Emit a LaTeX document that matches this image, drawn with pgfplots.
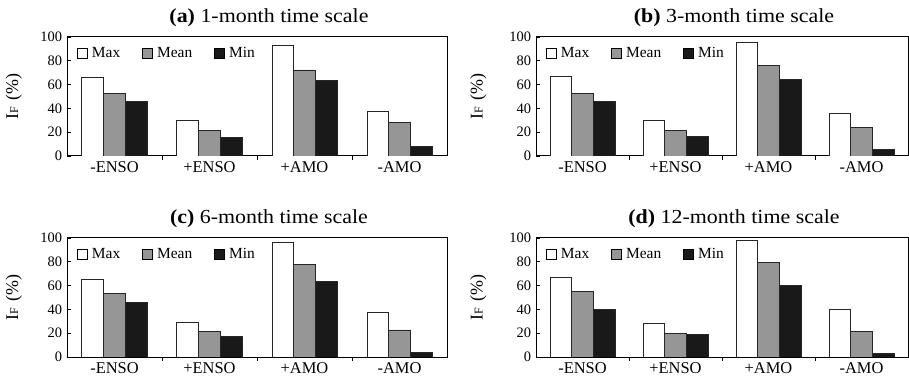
\documentclass[border=0pt]{standalone}
\usepackage{pgfplots}
\pgfplotsset{compat=1.18}
\usepackage{fontspec}
\setmainfont{Liberation Serif}
\newfontfamily\titlefont{Liberation Serif}[FakeStretch=1.1]
\definecolor{meangray}{RGB}{150,150,150}
\definecolor{mincol}{RGB}{25,25,25}
\pgfplotsset{
  sqlegend/.style={legend image code/.code={\draw[##1, line width=0.8bp, draw=black] (0bp,-5bp) rectangle (10bp,5bp);}},
  panel/.style={
    scale only axis,
    width=#1,
    height=119bp,
    ymin=0, ymax=100,
    xmin=-0.5, xmax=3.5,
    ytick={0,20,40,60,80,100},
    xtick={0,1,2,3},
    xticklabels={-ENSO,+ENSO,+AMO,-AMO},
    minor xtick={0.5,1.5,2.5},
    major x tick style={draw=none},
    tick align=inside,
    tick pos=left,
    major tick length=3.5bp,
    minor tick length=4bp,
    every tick/.style={black, line width=0.8bp},
    axis line style={line width=1bp, black},
    /pgf/number format/assume math mode=true,
    yticklabel style={font=\fontsize{14.5}{16}\selectfont, xshift=-1.5bp},
    xticklabel style={font=\fontsize{16.5}{18}\selectfont, yshift=1bp},
    ylabel={I{\fontsize{12}{12}\selectfont F}\hspace{7bp}(\%)},
    ylabel style={font=\fontsize{18}{20}\selectfont, anchor=center},
    title style={font=\titlefont\fontsize{20}{22}\selectfont, at={(0.5,1)}, anchor=base, yshift=9bp, xshift=12bp},
    ybar=0pt,
    bar width=21.7bp,
    every axis plot/.append style={draw=black!85, line width=0.9bp},
    every axis plot post/.append style={sqlegend},
    legend style={draw=none, fill=none, at={(0,1)}, anchor=north west, xshift=10bp, yshift=-8bp,
      font=\fontsize{15.5}{17}\selectfont, legend columns=-1,
      /tikz/every odd column/.append style={column sep=2bp},
      /tikz/every even column/.append style={column sep=20bp},
      inner sep=0bp},
  }
}
\begin{document}
\begin{tikzpicture}
\path[use as bounding box] (0,0) rectangle (909bp,380bp);
% (a)
\begin{axis}[panel=380bp, at={(67bp,224bp)}, anchor=south west,
  title={\textbf{(a)} 1-month time scale}, ylabel style={at={(axis description cs:-0.14,0.5)}}]
\addplot[fill=white] coordinates {(0,65.6) (1,29.6) (2,92.5) (3,37.7)};
\addplot[fill=meangray] coordinates {(0,52.2) (1,21.5) (2,72.3) (3,28.2)};
\addplot[fill=mincol] coordinates {(0,45.8) (1,15.4) (2,63.1) (3,8.4)};
\legend{Max,Mean,Min}
\end{axis}
% (b)
\begin{axis}[panel=372bp, at={(536bp,224bp)}, anchor=south west,
  title={\textbf{(b)} 3-month time scale}, ylabel style={at={(axis description cs:-0.155,0.5)}}]
\addplot[fill=white] coordinates {(0,66.8) (1,29.6) (2,95.0) (3,36.0)};
\addplot[fill=meangray] coordinates {(0,52.2) (1,21.5) (2,76.3) (3,24.3)};
\addplot[fill=mincol] coordinates {(0,45.8) (1,16.5) (2,64.5) (3,5.6)};
\legend{Max,Mean,Min}
\end{axis}
% (c)
\begin{axis}[panel=380bp, at={(67bp,23bp)}, anchor=south west,
  title={\textbf{(c)} 6-month time scale}, ylabel style={at={(axis description cs:-0.14,0.5)}}]
\addplot[fill=white] coordinates {(0,65.5) (1,29.4) (2,96.4) (3,37.3)};
\addplot[fill=meangray] coordinates {(0,53.5) (1,21.3) (2,77.9) (3,22.7)};
\addplot[fill=mincol] coordinates {(0,45.7) (1,17.6) (2,63.3) (3,4.2)};
\legend{Max,Mean,Min}
\end{axis}
% (d)
\begin{axis}[panel=372bp, at={(536bp,23bp)}, anchor=south west,
  title={\textbf{(d)} 12-month time scale}, ylabel style={at={(axis description cs:-0.155,0.5)}}]
\addplot[fill=white] coordinates {(0,67.0) (1,28.0) (2,97.8) (3,40.3)};
\addplot[fill=meangray] coordinates {(0,54.9) (1,19.9) (2,79.3) (3,21.3)};
\addplot[fill=mincol] coordinates {(0,40.3) (1,18.8) (2,60.5) (3,2.8)};
\legend{Max,Mean,Min}
\end{axis}
\end{tikzpicture}
\end{document}
